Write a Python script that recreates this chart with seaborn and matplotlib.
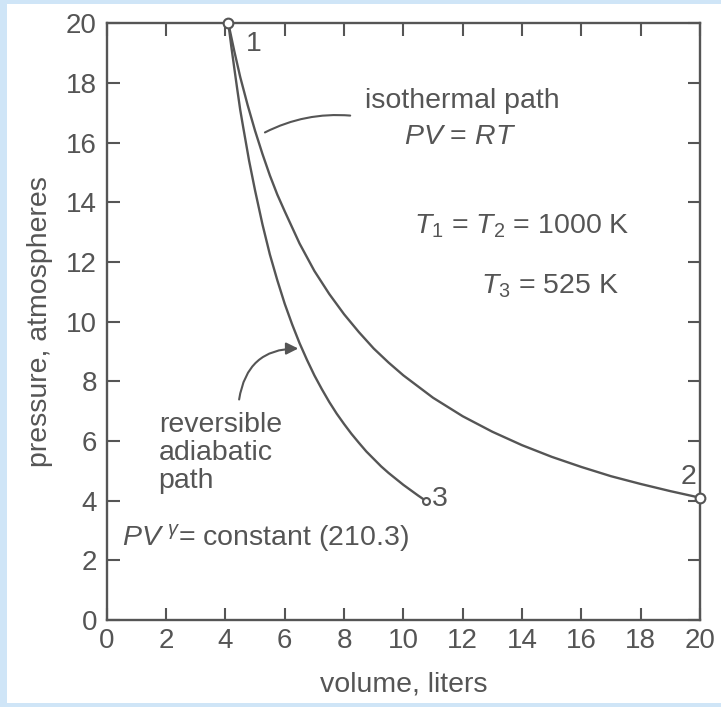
import numpy as np
import pandas as pd
import seaborn as sns
from matplotlib import pyplot as plt
from matplotlib.patches import Rectangle

# values (volume in liters, pressure in atm)
iso_volume = [4.1, 4.3, 4.5, 4.75, 5.0, 5.25, 5.5, 5.75, 6.0, 6.5, 7.0, 7.5, 8.0,
              8.5, 9.0, 9.5, 10.0, 11.0, 12.0, 13.0, 14.0, 15.0, 16.0, 17.0,
              18.0, 19.0, 20.0]
iso_pressure = [20.0, 19.07, 18.2, 17.26, 16.4, 15.62, 14.9, 14.26, 13.7, 12.62,
                11.7, 10.93, 10.25, 9.65, 9.1, 8.63, 8.2, 7.45, 6.83, 6.31, 5.86,
                5.47, 5.13, 4.82, 4.56, 4.32, 4.1]
adi_volume = [4.1, 4.2, 4.3, 4.4, 4.5, 4.6, 4.8, 5.0, 5.25, 5.5, 5.75, 6.0, 6.25,
              6.5, 6.75, 7.0, 7.25, 7.5, 7.75, 8.0, 8.25, 8.5, 8.75, 9.0, 9.25,
              9.5, 9.75, 10.0, 10.25, 10.5, 10.75]
adi_pressure = [20.0, 19.22, 18.5, 17.79, 17.1, 16.52, 15.39, 14.4, 13.26, 12.25,
                11.39, 10.6, 9.91, 9.28, 8.72, 8.2, 7.74, 7.31, 6.92, 6.57, 6.24,
                5.94, 5.65, 5.4, 5.15, 4.93, 4.73, 4.53, 4.35, 4.17, 4.0]
state_labels = ["1", "2", "3"]
state_volume = [4.1, 20.0, 10.75]
state_pressure = [20.0, 4.1, 4.0]

ink = "#555555"
sns.set_style("ticks")
plt.rcParams["font.family"] = ["Liberation Sans", "DejaVu Sans"]
plt.rcParams["mathtext.fontset"] = "custom"
plt.rcParams["mathtext.it"] = "Liberation Sans:italic"
plt.rcParams["mathtext.rm"] = "Liberation Sans"

fig = plt.figure(figsize=(7.21, 7.07), dpi=100, facecolor="#cfe5f7")
fig.patches.append(Rectangle((0.010, 0.006), 0.99, 0.988, transform=fig.transFigure,
                             facecolor="white", edgecolor="none", zorder=-10))
ax = fig.add_axes([0.148, 0.123, 0.823, 0.844])
ax.set_facecolor("white")

iso = pd.DataFrame({"volume": iso_volume, "pressure": iso_pressure})
adi = pd.DataFrame({"volume": adi_volume, "pressure": adi_pressure})
sns.lineplot(data=iso, x="volume", y="pressure", sort=False, color=ink, lw=1.7, ax=ax)
sns.lineplot(data=adi, x="volume", y="pressure", sort=False, color=ink, lw=1.7, ax=ax)
ax.plot(state_volume[:2], state_pressure[:2], "o", ms=7, mfc="white", mec=ink, mew=1.5,
        clip_on=False, zorder=5)
ax.plot(state_volume[2:], state_pressure[2:], "o", ms=5, mfc="white", mec=ink, mew=1.5,
        clip_on=False, zorder=5)

ax.set_xlim(0, 20)
ax.set_ylim(0, 20)
ticks = np.arange(0, 21, 2)
ax.set_xticks(ticks)
ax.set_yticks(ticks)
ax.tick_params(direction="in", length=9, width=1.5, colors=ink, labelsize=20,
               top=True, right=True)
ax.tick_params(axis="x", pad=6)
ax.tick_params(axis="y", pad=7)
for s in ax.spines.values():
    s.set_color(ink)
    s.set_linewidth(1.7)
ax.set_xlabel("volume, liters", fontsize=20.5, color=ink, labelpad=12)
ax.set_ylabel("pressure, atmospheres", fontsize=20.5, color=ink, labelpad=9)

txt = dict(color=ink, fontsize=20.5)
ax.text(4.7, 19.3, state_labels[0], ha="left", va="center", **txt)
ax.text(19.6, 4.8, state_labels[1], ha="center", va="center", **txt)
ax.text(10.95, 4.05, state_labels[2], ha="left", va="center", **txt)

ax.text(12.0, 17.4, "isothermal path", ha="center", va="center", **txt)
ax.text(11.9, 16.2, "$PV$ = $RT$", ha="center", va="center", **txt)
ax.annotate("", xy=(5.25, 16.3), xytext=(8.3, 16.9),
            arrowprops=dict(arrowstyle="-", color=ink, lw=1.5,
                            connectionstyle="arc3,rad=0.15"))
ax.text(10.35, 13.2, r"$T_1$ = $T_2$ = 1000 K", ha="left", va="center", **txt)
ax.text(12.6, 11.2, r"$T_3$ = 525 K", ha="left", va="center", **txt)

ax.text(1.75, 5.6, "reversible\nadiabatic\npath", ha="left", va="center",
        linespacing=1.12, **txt)
ax.annotate("", xy=(6.55, 9.1), xytext=(4.45, 7.3),
            arrowprops=dict(arrowstyle="-|>", color=ink, lw=1.5, mutation_scale=18,
                            connectionstyle="arc3,rad=-0.45"))
ax.text(0.5, 2.75, r"$PV^{\ \gamma}$= constant (210.3)", ha="left", va="center", **txt)

fig.savefig("out.png", dpi=100, facecolor=fig.get_facecolor())
